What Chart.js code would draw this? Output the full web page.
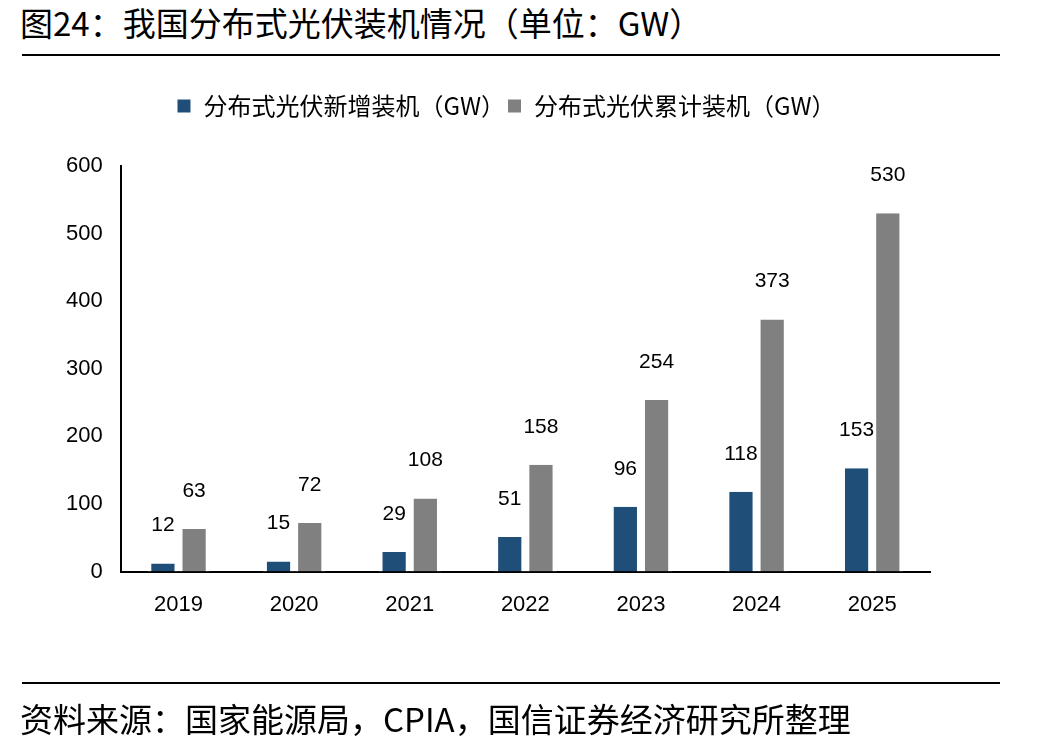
<!DOCTYPE html>
<html>
<head>
<meta charset="utf-8">
<script src="https://cdn.jsdelivr.net/npm/chart.js@4"></script>
<style>
  body { margin: 0; background: #fff; width: 1051px; height: 751px; overflow: hidden; position: relative; }
  .cjk { font-family: "Noto Sans CJK SC", sans-serif; color: #000; position: absolute; white-space: nowrap; }
  #title { left: 20px; top: 0px; font-size: 33px; line-height: 44px; }
  #footer { left: 20px; top: 696px; font-size: 33px; line-height: 44px; }
  .rule { position: absolute; left: 22px; width: 978px; height: 2px; background: #000; }
  #wrap { position: absolute; left: 0; top: 0; width: 1051px; height: 751px; }
</style>
</head>
<body>
<div id="title" class="cjk">图24：我国分布式光伏装机情况（单位：GW）</div>
<div class="rule" style="top:54px"></div>
<div id="wrap"><canvas id="myChart"></canvas></div>
<div class="rule" style="top:682px"></div>
<div id="footer" class="cjk">资料来源：国家能源局，CPIA，国信证券经济研究所整理</div>
<script>
var years = ["2019", "2020", "2021", "2022", "2023", "2024", "2025"];
var newInstalled = [12, 15, 29, 51, 96, 118, 153];
var cumulative = [63, 72, 108, 158, 254, 373, 530];
var seriesNames = ["分布式光伏新增装机（GW）", "分布式光伏累计装机（GW）"];
var yTicks = [0, 100, 200, 300, 400, 500, 600];

// value labels above each bar
var valueLabels = {
  id: "valueLabels",
  afterDatasetsDraw: function (chart) {
    var ctx = chart.ctx;
    ctx.save();
    ctx.font = "21px 'Liberation Sans', Arial, sans-serif";
    ctx.fillStyle = "#000";
    ctx.textAlign = "center";
    ctx.textBaseline = "middle";
    chart.data.datasets.forEach(function (ds, i) {
      chart.getDatasetMeta(i).data.forEach(function (bar, j) {
        ctx.fillText(ds.data[j], bar.x, bar.y - 38);
      });
    });
    ctx.restore();
  },
};

// extra room under the legend, and nudge it right like the original
var legendGap = {
  id: "legendGap",
  beforeInit: function (chart) {
    var fit = chart.legend.fit;
    chart.legend.fit = function () {
      fit.call(this);
      this.height += 38;
    };
  },
  afterLayout: function (chart) {
    chart.legend.left += 17;
    chart.legend.right += 17;
  },
};

var ctx = document.getElementById("myChart").getContext("2d");
var myChart = new Chart(ctx, {
  type: "bar",
  data: {
    labels: years,
    datasets: [
      {
        label: seriesNames[0],
        data: newInstalled,
        backgroundColor: "#1f4e79",
        borderColor: "#ffffff",
        borderWidth: { left: 4, right: 4, top: 0, bottom: 0 },
        barPercentage: 1,
        categoryPercentage: 0.54,
      },
      {
        label: seriesNames[1],
        data: cumulative,
        backgroundColor: "#808080",
        borderColor: "#ffffff",
        borderWidth: { left: 4, right: 4, top: 0, bottom: 0 },
        barPercentage: 1,
        categoryPercentage: 0.54,
      },
    ],
  },
  options: {
    responsive: true,
    maintainAspectRatio: false,
    animation: false,
    layout: { padding: { left: 48, right: 121, top: 92, bottom: 113 } },
    plugins: {
      legend: {
        position: "top",
        labels: {
          boxWidth: 15,
          boxHeight: 15,
          padding: 2,
          color: "#000",
          font: { family: "'Noto Sans CJK SC', sans-serif", size: 24 },
        },
      },
      tooltip: { enabled: false },
    },
    scales: {
      x: {
        grid: { display: false, drawTicks: false },
        border: { color: "#000", width: 2 },
        ticks: {
          color: "#000",
          padding: 20,
          font: { family: "'Liberation Sans', Arial, sans-serif", size: 22 },
        },
      },
      y: {
        min: 0,
        max: 600,
        afterBuildTicks: function (axis) {
          axis.ticks = yTicks.map(function (v) { return { value: v }; });
        },
        grid: { display: false, drawTicks: false },
        border: { color: "#000", width: 2 },
        ticks: {
          color: "#000",
          padding: 18,
          font: { family: "'Liberation Sans', Arial, sans-serif", size: 22 },
        },
      },
    },
  },
  plugins: [valueLabels, legendGap],
});
</script>
</body>
</html>
